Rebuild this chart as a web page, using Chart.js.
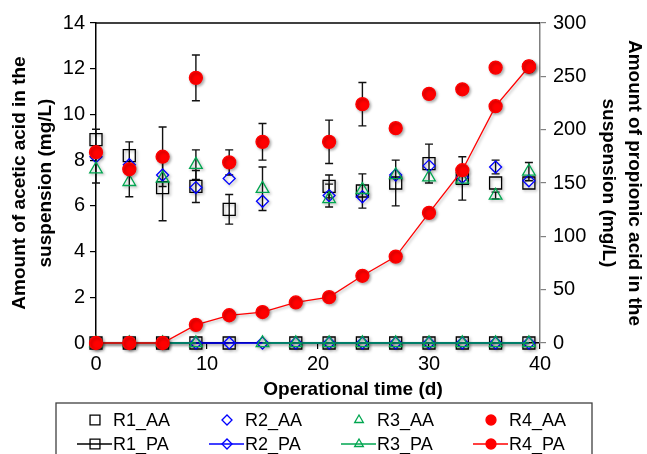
<!DOCTYPE html>
<html>
<head>
<meta charset="utf-8">
<script src="https://cdn.jsdelivr.net/npm/chart.js@4.4.1/dist/chart.umd.min.js"></script>
<style>
  html, body { margin: 0; padding: 0; background: #fff; }
  #wrap { width: 647px; height: 454px; }
</style>
</head>
<body>
<div id="wrap"><canvas id="chart" width="647" height="454"></canvas></div>
<script>
// Operational days
const days = [0, 3, 6, 9, 12, 15, 18, 21, 24, 27, 30, 33, 36, 39];

// Acetic acid (mg/L), left axis
const r1AA = [8.9, 8.2, 6.8, 6.85, 5.85, null, null, 6.85, 6.65, 7.0, 7.85, 7.2, 7.0, 7.0];
const r2AA = [8.15, 7.8, 7.35, 6.8, 7.2, 6.2, null, 6.45, 6.4, 7.35, 7.75, 7.25, 7.7, 7.1];
const r3AA = [7.6, 7.05, 7.2, 7.8, null, 6.75, null, 6.3, 6.7, 7.35, 7.25, 7.15, 6.45, 7.5];
const r4AA = [8.35, 7.6, 8.15, 11.6, 7.9, 8.8, null, 8.8, 10.45, 9.4, 10.9, 11.1, 12.05, 12.1];

// Error bars (+/-) for acetic acid
const r1AAErr = [0.45, 0.6, 1.45, 0.7, 0.65, null, null, 0.5, 0.75, 1.0, 0.85, 0.95, null, null];
const r2AAErr = [null, null, null, null, null, null, null, 0.5, null, null, null, null, 0.3, null];
const r3AAErr = [0.6, 0.65, null, 0.65, null, 0.95, null, null, null, null, null, null, 0.15, 0.4];
const r4AAErr = [null, null, 1.3, 1.0, 0.55, 0.8, null, 0.95, 0.95, null, null, null, null, 0.25];

// Propionic acid (mg/L), right axis
const r1PA = [0, 0, 0, 0, 0, null, 0, 0, 0, 0, 0, 0, 0, 0];
const r2PA = [0, 0, 0, 0, 0, 0, 0, 0, 0, 0, 0, 0, 0, 0];
const r3PA = [0, 0, 0, 0, null, 0, 0, 0, 0, 0, 0, 0, 0, 0];
const r4PA = [0, 0, 0, 17, 26, 29, 38, 43, 63, 81, 122, 162, 222, 259];

const leftTicks = { min: 0, max: 14, step: 2 };
const rightTicks = { min: 0, max: 300, step: 50 };
const xTicks = { min: 0, max: 40, step: 10 };

const BLACK = "#000000",
      BLUE = "#0000ff",
      GREEN = "#00a650",
      RED = "#ff0000";

const FAMILY = "'Liberation Sans', Arial, sans-serif";
Chart.defaults.font.family = FAMILY;
Chart.defaults.color = "#000";

const toPoints = (vals) => days.map((d, i) => ({ x: d, y: vals[i] }));

function aaSet(label, vals, errs, style, radius, color, filled, order) {
    return {
        label: label,
        data: toPoints(vals),
        errorBars: errs,
        yAxisID: "y",
        showLine: false,
        pointStyle: style,
        pointRadius: radius,
        pointHoverRadius: radius,
        pointBorderWidth: 1.3,
        pointBorderColor: color,
        pointBackgroundColor: filled ? color : "rgba(0,0,0,0)",
        borderColor: color,
        backgroundColor: filled ? color : "rgba(0,0,0,0)",
        order: order,
        clip: false
    };
}

function paSet(label, vals, style, radius, color, filled, order) {
    return {
        label: label,
        data: toPoints(vals),
        yAxisID: "y1",
        showLine: true,
        spanGaps: false,
        borderWidth: 1.3,
        borderColor: color,
        pointStyle: style,
        pointRadius: radius,
        pointHoverRadius: radius,
        pointBorderWidth: 1.3,
        pointBorderColor: color,
        pointBackgroundColor: filled ? color : "rgba(0,0,0,0)",
        backgroundColor: filled ? color : "rgba(0,0,0,0)",
        order: order,
        clip: false
    };
}

// Error bars, drawn under the markers
const errorBarPlugin = {
    id: "errorBars",
    beforeDatasetsDraw(chart) {
        const ctx = chart.ctx;
        const xs = chart.scales.x;
        ctx.save();
        ctx.strokeStyle = "#111";
        ctx.lineWidth = 1.4;
        chart.data.datasets.forEach((ds) => {
            if (!ds.errorBars) return;
            const ys = chart.scales[ds.yAxisID];
            ds.data.forEach((p, i) => {
                const e = ds.errorBars[i];
                if (p.y == null || e == null) return;
                const x = xs.getPixelForValue(p.x);
                const top = ys.getPixelForValue(p.y + e);
                const bot = ys.getPixelForValue(p.y - e);
                ctx.beginPath();
                ctx.moveTo(x, top); ctx.lineTo(x, bot);
                ctx.moveTo(x - 4, top); ctx.lineTo(x + 4, top);
                ctx.moveTo(x - 4, bot); ctx.lineTo(x + 4, bot);
                ctx.stroke();
            });
        });
        ctx.restore();
    }
};

// soft shadow like the original marker look
const shadowPlugin = {
    id: "shadow",
    beforeDatasetDraw(chart) {
        const ctx = chart.ctx;
        ctx.save();
        ctx.shadowColor = "rgba(0,0,0,0.3)";
        ctx.shadowBlur = 3;
        ctx.shadowOffsetX = 1.5;
        ctx.shadowOffsetY = 1.5;
    },
    afterDatasetDraw(chart) {
        chart.ctx.restore();
    }
};

function drawMarker(ctx, style, x, y, r, color, filled) {
    ctx.beginPath();
    if (style === "rect") {
        const s = r * Math.SQRT1_2;
        ctx.rect(x - s, y - s, 2 * s, 2 * s);
    } else if (style === "rectRot") {
        ctx.moveTo(x - r, y); ctx.lineTo(x, y - r);
        ctx.lineTo(x + r, y); ctx.lineTo(x, y + r);
        ctx.closePath();
    } else if (style === "triangle") {
        for (let k = 0; k < 3; k++) {
            const a = k * 2 * Math.PI / 3;
            const px = x + Math.sin(a) * r, py = y - Math.cos(a) * r;
            if (k === 0) ctx.moveTo(px, py); else ctx.lineTo(px, py);
        }
        ctx.closePath();
    } else {
        ctx.arc(x, y, r, 0, Math.PI * 2);
    }
    if (filled) {
        ctx.fillStyle = color;
        ctx.fill();
    }
    ctx.strokeStyle = color;
    ctx.lineWidth = 1.3;
    ctx.stroke();
}

// top frame line, x title and the boxed 4-column legend
const framePlugin = {
    id: "frameAndLegend",
    afterDraw(chart) {
        const ctx = chart.ctx;
        const area = chart.chartArea;
        ctx.save();
        ctx.strokeStyle = "#000";
        ctx.lineWidth = 1.5;
        ctx.beginPath();
        ctx.moveTo(area.left, area.top);
        ctx.lineTo(area.right, area.top);
        ctx.stroke();

        // x axis title sits a bit right of the plot centre in the original
        ctx.fillStyle = "#000";
        ctx.font = "bold 19px " + FAMILY;
        ctx.textAlign = "center";
        ctx.textBaseline = "middle";
        ctx.fillText("Operational time (d)", (area.left + area.right) / 2 + 35, area.bottom + 47);

        const boxLeft = 56, boxTop = 403, boxRight = 592;
        ctx.strokeStyle = "#404040";
        ctx.lineWidth = 1.3;
        ctx.strokeRect(boxLeft, boxTop, boxRight - boxLeft, 80);

        ctx.font = "18px " + FAMILY;
        ctx.textAlign = "left";
        chart.data.datasets.forEach((ds, i) => {
            const col = i % 4, row = Math.floor(i / 4);
            const mx = boxLeft + 39 + col * 132;
            const my = 420 + row * 24;
            const filled = ds.pointBackgroundColor !== "rgba(0,0,0,0)";
            const r = ds.pointStyle === "rect" ? 7 : 5;
            if (ds.showLine) {
                ctx.strokeStyle = ds.borderColor;
                ctx.lineWidth = 1.3;
                ctx.beginPath();
                ctx.moveTo(mx - 18, my);
                ctx.lineTo(mx + 17, my);
                ctx.stroke();
            }
            drawMarker(ctx, ds.pointStyle, mx, my, r, ds.borderColor, filled);
            ctx.fillStyle = "#000";
            ctx.fillText(ds.label, mx + 18, my + 1);
        });
        ctx.restore();
    }
};

const axisFont = { size: 20 };
const titleFont = { size: 19, weight: "bold", lineHeight: 1.35 };

new Chart(document.getElementById("chart"), {
    type: "scatter",
    plugins: [errorBarPlugin, shadowPlugin, framePlugin],
    data: {
        datasets: [
            aaSet("R1_AA", r1AA, r1AAErr, "rect", 8.5, BLACK, false, 7),
            aaSet("R2_AA", r2AA, r2AAErr, "rectRot", 6, BLUE, false, 6),
            aaSet("R3_AA", r3AA, r3AAErr, "triangle", 7.3, GREEN, false, 5),
            aaSet("R4_AA", r4AA, r4AAErr, "circle", 6.5, RED, true, 0),
            paSet("R1_PA", r1PA, "rect", 8.5, BLACK, false, 4),
            paSet("R2_PA", r2PA, "rectRot", 6, BLUE, false, 3),
            paSet("R3_PA", r3PA, "triangle", 7.3, GREEN, false, 2),
            paSet("R4_PA", r4PA, "circle", 6.5, RED, true, 1)
        ]
    },
    options: {
        responsive: false,
        animation: false,
        layout: { padding: { top: 23, bottom: 50, left: 0, right: 0 } },
        plugins: {
            legend: { display: false },
            tooltip: { enabled: false }
        },
        scales: {
            x: {
                type: "linear",
                position: "bottom",
                min: xTicks.min,
                max: xTicks.max,
                ticks: { stepSize: xTicks.step, font: axisFont, color: "#000", padding: 3, maxRotation: 0 },
                grid: { drawOnChartArea: false, tickLength: 6, color: "#000", lineWidth: 1.2 },
                border: { color: "#000", width: 1.5 },
                afterFit: (scale) => { scale.height = 61; }
            },
            y: {
                position: "left",
                min: leftTicks.min,
                max: leftTicks.max,
                ticks: { stepSize: leftTicks.step, font: axisFont, color: "#000", padding: 5 },
                grid: { drawOnChartArea: false, tickLength: 6, color: "#000", lineWidth: 1.2 },
                border: { color: "#000", width: 1.5 },
                title: {
                    display: true,
                    text: ["Amount of acetic acid in the", "suspension (mg/L)"],
                    font: titleFont,
                    color: "#000",
                    padding: { top: 7, bottom: 0 }
                },
                afterFit: (scale) => { scale.width = 96; }
            },
            y1: {
                position: "right",
                min: rightTicks.min,
                max: rightTicks.max,
                ticks: { stepSize: rightTicks.step, font: axisFont, color: "#000", padding: 7 },
                grid: { drawOnChartArea: false, tickLength: 6, color: "#808080", lineWidth: 1.2 },
                border: { color: "#808080", width: 1.5 },
                title: {
                    display: true,
                    text: ["Amount of propionic acid in the", "suspension (mg/L)"],
                    font: titleFont,
                    color: "#000",
                    padding: { top: 0, bottom: 0 }
                },
                afterFit: (scale) => { scale.width = 107; }
            }
        }
    }
});
</script>
</body>
</html>
